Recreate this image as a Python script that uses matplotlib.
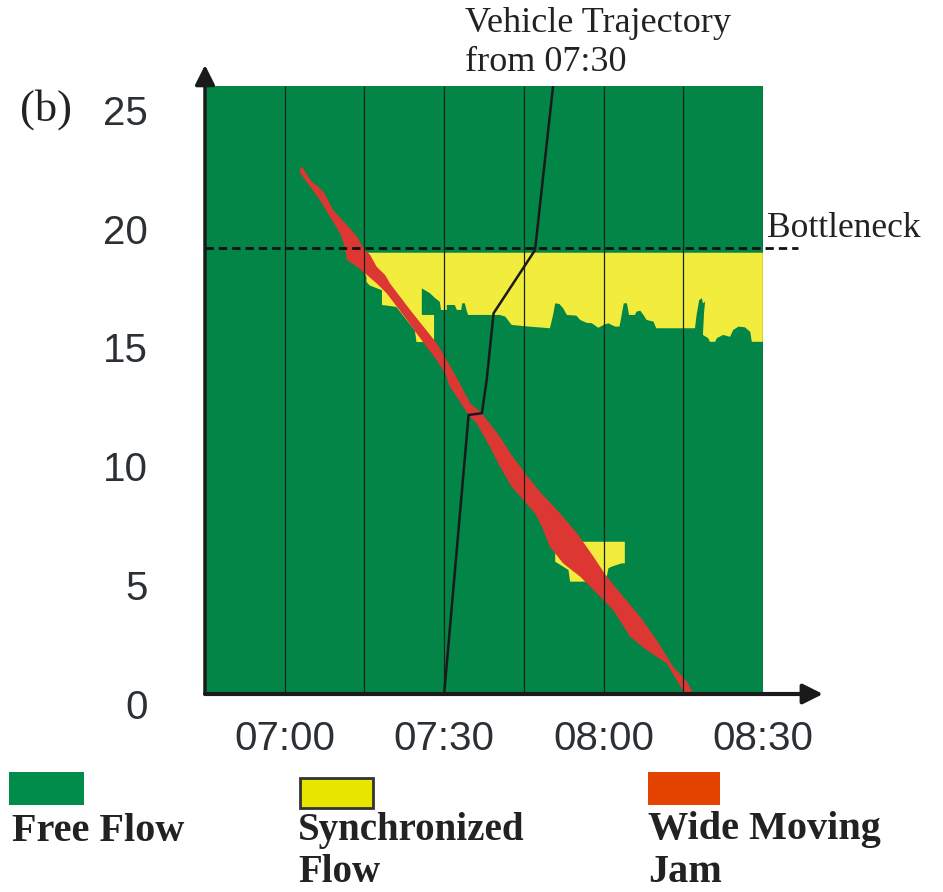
import matplotlib.pyplot as plt
import matplotlib.transforms as mtransforms
from matplotlib.patches import Rectangle

# time in minutes after midnight, location in km
xtick_vals = [420, 450, 480, 510]
xtick_labels = ['07:00', '07:30', '08:00', '08:30']
ytick_vals = [0, 5, 10, 15, 20, 25]
grid_times = [420, 435, 450, 465, 480, 495, 510]
bottleneck_km = 18.8

# wide moving jam: upper-right and lower-left edges
jam_top_t = [422.9, 423.5, 424.8, 426.6, 427.3, 429.1, 431.7, 433.6, 434.8, 436.1, 437.3,
             438.9, 439.8, 441.7, 443.6, 446.1, 448.6, 450.5, 452.6, 454.9, 457.1, 458.3,
             460.5, 462.7, 465.5, 468.0, 471.8, 475.0, 478.1, 480.6, 483.7, 486.9, 490.0,
             493.1, 495.7, 496.9]
jam_top_km = [22.20, 22.13, 21.64, 21.29, 21.15, 20.38, 19.75, 19.26, 18.77, 18.48, 17.99,
              17.64, 17.29, 16.73, 16.17, 15.47, 14.77, 14.06, 13.22, 12.24, 11.82, 11.47,
              10.83, 10.06, 9.22, 8.52, 7.61, 6.77, 5.78, 4.94, 4.10, 3.25, 2.27,
              1.15, 0.52, 0.0]
jam_bot_t = [422.9, 424.8, 426.6, 428.5, 430.4, 431.3, 431.7, 433.6, 435.1, 437.3, 439.2,
             441.1, 443.0, 444.8, 446.7, 448.6, 450.5, 450.9, 454.6, 456.1, 458.6, 460.5,
             462.7, 464.9, 467.1, 468.4, 469.9, 472.4, 475.6, 478.1, 481.8, 485.0, 488.1,
             491.9, 495.3]
jam_bot_km = [21.92, 21.36, 20.80, 20.10, 19.40, 18.83, 18.27, 17.99, 17.71, 17.29, 16.87,
              16.31, 15.75, 15.19, 14.62, 14.06, 13.36, 13.01, 11.75, 11.40, 10.41, 9.57,
              8.73, 8.17, 7.61, 7.04, 6.20, 5.50, 4.94, 4.38, 3.54, 2.41, 1.85,
              1.29, 0.0]

# synchronized flow upstream of the bottleneck
sync_t = [433.0, 510.0, 510.0, 507.9, 507.6, 506.6, 505.4, 504.4, 503.8, 502.5,
          501.3, 501.0, 500.0, 499.7, 498.7, 498.9, 499.1, 498.7, 498.5, 498.0,
          497.5, 497.2, 489.9, 489.4, 488.1, 487.5, 486.9, 486.2, 485.9, 484.8,
          484.4, 483.8, 483.4, 483.0, 482.2, 481.5, 480.9, 480.0, 479.0, 477.8,
          476.8, 475.6, 474.9, 473.1, 472.4, 471.7, 470.9, 470.5, 469.9, 464.9,
          462.7, 461.5, 460.5, 454.5, 454.2, 453.9, 453.4, 453.2, 452.4, 452.0,
          450.5, 450.5, 449.4, 449.2, 448.3, 447.3, 445.8, 445.8, 448.1, 448.1,
          444.8, 444.5, 441.0, 438.3, 438.3, 436.0, 435.4, 435.4]
sync_km = [18.58, 18.58, 14.83, 14.83, 15.25, 15.44, 15.47, 15.33, 15.04, 15.12,
           14.98, 14.83, 14.83, 14.98, 15.12, 16.03, 16.52, 16.45, 16.66, 16.59,
           15.96, 15.40, 15.40, 15.68, 15.75, 15.96, 16.14, 16.10, 15.96, 15.96,
           16.45, 16.45, 15.96, 15.47, 15.47, 15.54, 15.61, 15.54, 15.42, 15.61,
           15.63, 15.75, 15.93, 15.96, 16.24, 16.42, 16.45, 15.96, 15.40, 15.49,
           15.54, 15.89, 15.96, 15.96, 16.17, 16.45, 16.45, 16.17, 16.17, 16.38,
           16.38, 16.17, 16.17, 16.51, 16.67, 16.88, 17.08, 15.96, 15.96, 14.82,
           14.82, 15.3, 16.3, 16.38, 17.0, 17.2, 17.35, 17.56]

# small synchronized flow patch
sync2_t = [474.6, 484.0, 484.0, 483.4, 481.5, 480.9, 480.6, 480.3, 473.7, 473.4, 472.2, 470.9, 470.9, 471.8]
sync2_km = [6.41, 6.41, 5.50, 5.50, 5.36, 5.29, 4.94, 4.73, 4.73, 5.22, 5.39, 5.57, 5.92, 5.92]

# vehicle trajectory starting at 07:30
traj_t = [450.0, 454.6, 457.1, 458.0, 459.3, 467.1, 470.5]
traj_km = [0.0, 11.75, 11.82, 13.22, 16.03, 18.69, 25.6]

green = '#038547'
yellow = '#f2ec3c'
red = '#dc3732'
dark = '#1a1a1a'
tick_color = '#2b3035'

fig = plt.figure(figsize=(9.43, 8.92), dpi=100)
ax = fig.add_axes([205 / 943, 198 / 892, 558 / 943, 608 / 892])
ax.set_xlim(405, 510)
ax.set_ylim(0, 25.6)
ax.set_facecolor(green)

ax.fill(sync_t, sync_km, color=yellow, lw=0, zorder=1)
ax.fill(sync2_t, sync2_km, color=yellow, lw=0, zorder=1)
ax.fill(jam_top_t + jam_bot_t[::-1], jam_top_km + jam_bot_km[::-1], color=red, lw=0, zorder=2)
ax.vlines(grid_times, 0, 25.6, colors='#16241c', lw=0.9, zorder=3)
ax.plot([405, 516.5], [bottleneck_km, bottleneck_km], ls=(0, (3, 1.8)), color='#111111',
        lw=2, clip_on=False, zorder=4)
ax.plot(traj_t, traj_km, color=dark, lw=1.8, zorder=5)

for s in ax.spines.values():
    s.set_visible(False)
ax.annotate('', xy=(0, 1.0345), xytext=(0, 0), xycoords='axes fraction', annotation_clip=False,
            arrowprops=dict(arrowstyle='-|>', color=dark, lw=2.5, mutation_scale=30, shrinkA=0, shrinkB=0))
ax.annotate('', xy=(1.1075, 0), xytext=(0, 0), xycoords='axes fraction', annotation_clip=False,
            arrowprops=dict(arrowstyle='-|>', color=dark, lw=3, mutation_scale=30, shrinkA=0, shrinkB=0))

ax.set_xticks(xtick_vals)
ax.set_xticklabels(xtick_labels)
ax.set_yticks(ytick_vals)
ax.set_yticklabels([str(v) for v in ytick_vals])
ax.tick_params(axis='x', length=0, pad=19, labelsize=29, labelcolor=tick_color)
ax.tick_params(axis='y', length=0, pad=41, labelsize=29, labelcolor=tick_color)
for lbl in ax.get_xticklabels() + ax.get_yticklabels():
    lbl.set_family('Liberation Sans')
shift = mtransforms.ScaledTranslation(0, -7 / 72, fig.dpi_scale_trans)
for lbl in ax.get_yticklabels():
    lbl.set_transform(lbl.get_transform() + shift)

serif = 'Liberation Serif'
fig.text(20 / 943, 1 - 110 / 892, '(b)', fontsize=32, family=serif, va='center', ha='left', color='#222222')
fig.text(465 / 943, 1 - 43 / 892, 'Vehicle Trajectory\nfrom 07:30', fontsize=26, family=serif,
         va='center', ha='left', linespacing=1.25, color='#222222')
fig.text(767 / 943, 1 - 228 / 892, 'Bottleneck', fontsize=25.5, family=serif, va='center', ha='left',
         color='#222222')

# legend
fig.add_artist(Rectangle((9 / 943, 1 - 805 / 892), 75 / 943, 33 / 892, transform=fig.transFigure,
                         facecolor='#008c4a', edgecolor='none'))
fig.add_artist(Rectangle((300 / 943, 1 - 808 / 892), 73 / 943, 30 / 892, transform=fig.transFigure,
                         facecolor='#e8e500', edgecolor='#333333', lw=2))
fig.add_artist(Rectangle((648 / 943, 1 - 805 / 892), 72 / 943, 33 / 892, transform=fig.transFigure,
                         facecolor='#e54300', edgecolor='none'))
fig.text(12 / 943, 1 - 813 / 892, 'Free Flow', fontsize=29, family=serif, weight='bold',
         va='top', ha='left', color='#222222')
fig.text(298 / 943, 1 - 812 / 892, 'Synchronized\nFlow', fontsize=28, family=serif, weight='bold',
         va='top', ha='left', linespacing=1.17, color='#222222')
fig.text(648 / 943, 1 - 811 / 892, 'Wide Moving\nJam', fontsize=29, family=serif, weight='bold',
         va='top', ha='left', linespacing=1.2, color='#222222')

fig.savefig('out.png', dpi=100)
